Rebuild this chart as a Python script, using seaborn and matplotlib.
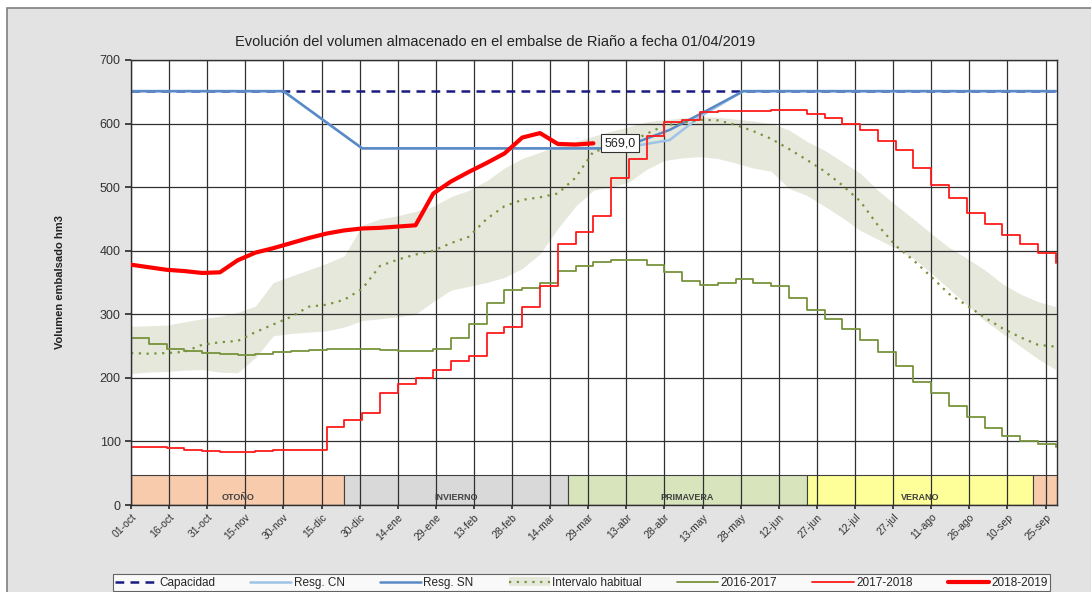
import numpy as np
import matplotlib
matplotlib.use('Agg')
import matplotlib.pyplot as plt
import seaborn as sns
from matplotlib.patches import Patch, Rectangle
from matplotlib.lines import Line2D

# Datos (dia del año hidrologico, 0 = 01-oct)
semanas = list(range(0, 365, 7))

v1617 = [262, 253, 246, 242, 239, 237, 236, 237, 240, 243, 244, 245, 245, 245, 244, 242, 243, 246,
         262, 285, 318, 338, 341, 350, 368, 376, 382, 385, 386, 377, 366, 352, 346, 350, 355, 350,
         344, 326, 307, 292, 277, 260, 240, 218, 194, 176, 155, 139, 121, 108, 101, 96, 92]
v1718 = [92, 91, 90, 87, 85, 84, 84, 85, 86, 86, 87, 123, 134, 144, 176, 190, 200, 212,
         226, 234, 270, 280, 312, 345, 410, 430, 455, 515, 545, 580, 602, 606, 618, 619, 619, 620,
         622, 622, 615, 608, 600, 590, 573, 558, 530, 503, 483, 460, 442, 424, 410, 397, 380]
v1819 = [378, 374, 370, 368, 365, 366, 385, 397, 404, 412, 420, 427, 432, 435, 436, 438, 440, 490,
         509, 524, 538, 553, 578, 585, 568, 567, 569]
mediana = [239, 238, 239, 241, 252, 256, 258, 272, 284, 296, 312, 315, 323, 340, 376, 386, 394, 400,
           412, 422, 450, 470, 480, 484, 490, 515, 556, 562, 570, 584, 597, 601, 606, 605, 598, 588,
           576, 560, 543, 525, 503, 478, 440, 408, 385, 359, 332, 314, 295, 278, 264, 252, 249]
int_min = [207, 209, 210, 212, 213, 209, 208, 232, 266, 270, 272, 274, 280, 290, 293, 296, 300, 320,
           338, 344, 350, 358, 372, 395, 435, 470, 495, 500, 508, 528, 542, 546, 548, 545, 538, 530,
           525, 498, 487, 470, 452, 432, 418, 404, 388, 365, 340, 315, 290, 270, 250, 230, 213]
int_max = [281, 282, 283, 288, 293, 297, 303, 313, 350, 360, 370, 380, 392, 440, 450, 455, 462, 470,
           485, 495, 510, 530, 545, 555, 565, 572, 580, 588, 595, 603, 606, 609, 611, 610, 607, 604,
           600, 590, 572, 558, 540, 522, 495, 472, 450, 427, 405, 388, 370, 348, 332, 320, 312]

cap_dias = [0, 364]
cap_vals = [651, 651]
sn_dias = [0, 60, 91, 190, 200, 212, 225, 241, 364]
sn_vals = [651, 651, 561, 561, 572, 590, 617, 651, 651]
cn_dias = [0, 60, 91, 190, 200, 212, 224, 241, 364]
cn_vals = [651, 651, 561, 561, 566, 574, 611, 651, 651]

ultimo_dia = 182
ultimo_valor = 569.0

estaciones = ['OTOÑO', 'INVIERNO', 'PRIMAVERA', 'VERANO', '']
est_inicio = [0, 84, 172, 266, 355]
est_fin = [84, 172, 266, 355, 365]
est_color = ['#F8CBAD', '#D9D9D9', '#D8E4BC', '#FFFF99', '#F8CBAD']

tick_dias = list(range(0, 361, 15))
tick_labels = ['01-oct', '16-oct', '31-oct', '15-nov', '30-nov', '15-dic', '30-dic', '14-ene',
               '29-ene', '13-feb', '28-feb', '14-mar', '29-mar', '13-abr', '28-abr', '13-may',
               '28-may', '12-jun', '27-jun', '12-jul', '27-jul', '11-ago', '26-ago', '10-sep', '25-sep']

sns.set_theme(style='white')
plt.rcParams['font.family'] = ['Liberation Sans', 'DejaVu Sans']

fig = plt.figure(figsize=(10.91, 5.92), dpi=100, facecolor='white')
fig.patches.append(Rectangle((7 / 1091, -0.1), 1.1, 1 - 8 / 592 + 0.1, transform=fig.transFigure,
                             facecolor='#E3E3E3', edgecolor='#7F7F7F', lw=1.2, zorder=-10))
ax = fig.add_axes([131 / 1091, 1 - 505 / 592, (1057 - 131) / 1091, (505 - 60) / 592])
ax.set_facecolor('white')

# Bandas de estaciones
anchos = [f - i for i, f in zip(est_inicio, est_fin)]
ax.bar(est_inicio, 47, width=anchos, align='edge', color=est_color, edgecolor='#404040',
       linewidth=0.8, zorder=0.2)
for nombre, i, f in zip(estaciones, est_inicio, est_fin):
    ax.text((i + f) / 2, 12, nombre, ha='center', va='center', fontsize=6.5,
            fontweight='bold', color='#404040', zorder=3)

# Intervalo habitual
ax.fill_between(semanas, int_min, int_max, color='#E6E8DC', lw=0, zorder=0.3)

# Rejilla
ax.set_xticks(tick_dias)
ax.set_yticks(range(0, 701, 100))
ax.grid(True, color='#303030', lw=0.9)
ax.set_axisbelow(True)
for gl in ax.get_xgridlines() + ax.get_ygridlines():
    gl.set_zorder(0.5)

sns.lineplot(x=cap_dias, y=cap_vals, ax=ax, color='#1A1A80', lw=1.8,
             linestyle=(0, (3.5, 2.5)), zorder=2)
sns.lineplot(x=cn_dias, y=cn_vals, ax=ax, color='#9DC3E6', lw=1.8, zorder=2.1)
sns.lineplot(x=sn_dias, y=sn_vals, ax=ax, color='#5A8AC6', lw=1.8, zorder=2.2)
sns.lineplot(x=semanas, y=mediana, ax=ax, color='#77933C', lw=1.6, linestyle=(0, (1, 2.5)),
             zorder=2.3)
sns.lineplot(x=semanas, y=v1617, ax=ax, color='#77933C', lw=1.3, drawstyle='steps-post', zorder=2.4)
sns.lineplot(x=semanas, y=v1718, ax=ax, color='#FF1A1A', lw=1.3, drawstyle='steps-post', zorder=2.5)
sns.lineplot(x=semanas[:len(v1819)], y=v1819, ax=ax, color='#FF0000', lw=3.0, zorder=2.6)

ax.text(ultimo_dia + 10.5, ultimo_valor, f'{ultimo_valor:.1f}'.replace('.', ','),
        ha='center', va='center', fontsize=9, color='#222222', zorder=5,
        bbox=dict(boxstyle='square,pad=0.25', facecolor='white', edgecolor='#303030', lw=0.8))

ax.set_xlim(0, 364.5)
ax.set_ylim(0, 700)
ax.set_xticklabels(tick_labels, rotation=45, ha='right', rotation_mode='anchor', fontsize=7.5,
                   color='#333333')
ax.tick_params(axis='y', labelsize=9, labelcolor='#333333', length=4, left=True, color='#303030')
ax.tick_params(axis='x', length=3, bottom=True, color='#303030', pad=2)
for s in ax.spines.values():
    s.set_color('#303030')
    s.set_linewidth(1.0)

ax.set_ylabel('Volumen embalsado hm3', fontsize=8, fontweight='bold', color='#222222', labelpad=25)
fig.text(495 / 1091, 1 - 42 / 592, 'Evolución del volumen almacenado en el embalse de Riaño a fecha 01/04/2019',
         ha='center', va='center', fontsize=10.5, color='#222222')

handles = [
    Line2D([], [], color='#1A1A80', lw=1.8, linestyle=(0, (3.5, 2.5))),
    Line2D([], [], color='#9DC3E6', lw=1.8),
    Line2D([], [], color='#5A8AC6', lw=1.8),
    (Patch(facecolor='#E6E8DC', edgecolor='none'),
     Line2D([], [], color='#77933C', lw=1.6, linestyle=(0, (1, 2.5)))),
    Line2D([], [], color='#77933C', lw=1.3),
    Line2D([], [], color='#FF1A1A', lw=1.3),
    Line2D([], [], color='#FF0000', lw=3.0),
]
labels = ['Capacidad', 'Resg. CN', 'Resg. SN', 'Intervalo habitual', '2016-2017', '2017-2018', '2018-2019']
leg = fig.legend(handles, labels, loc='lower left', ncol=7, mode='expand',
                 bbox_to_anchor=(113 / 1091, 1 / 592, (1050 - 113) / 1091, 20 / 592),
                 fontsize=8.5, frameon=True, fancybox=False, edgecolor='#404040',
                 handlelength=3.5, handletextpad=0.2, borderpad=0.2, borderaxespad=0)
leg.get_frame().set_linewidth(0.8)

fig.savefig('out.png', dpi=100, facecolor=fig.get_facecolor())
